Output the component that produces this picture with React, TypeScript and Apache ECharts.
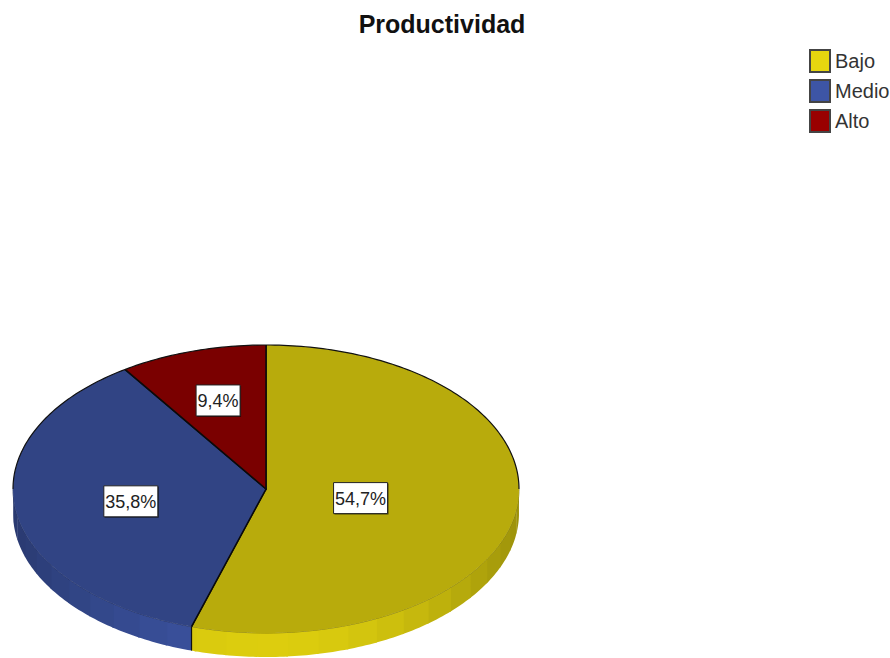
import React, { useEffect, useRef } from "react";
import * as echarts from "echarts";

// Productividad: share of each level, in percent
const categories = ["Bajo", "Medio", "Alto"];
const shares = [54.7, 35.8, 9.4];
const shareLabels = ["54,7%", "35,8%", "9,4%"];
const colors = ["#E6D60F", "#3D55A5", "#990000"];

// Projection of the tilted disc
const CX = 266;
const CY = 489;
const RX = 253;
const RY = 144;
const DEPTH = 24;
const FACET = 7; // degrees per facet of the rim
const LABEL_RADIUS = [0.378, 0.54, 0.65];
const FONT = '"Liberation Sans", Arial, sans-serif';

const total = shares.reduce((a, b) => a + b, 0);

// Angles are in degrees, clockwise from twelve o'clock
const rimPoint = (deg: number, r = 1, drop = 0): number[] => {
  const t = (deg * Math.PI) / 180;
  return [CX + RX * r * Math.sin(t), CY - RY * r * Math.cos(t) + drop];
};

const shade = (hex: string, f: number): string => {
  const n = parseInt(hex.slice(1), 16);
  const c = [(n >> 16) & 255, (n >> 8) & 255, n & 255].map((v) =>
    Math.min(255, Math.round(v * f))
  );
  return `rgb(${c[0]},${c[1]},${c[2]})`;
};

const arcPoints = (from: number, to: number, drop = 0): number[][] => {
  const pts: number[][] = [];
  const steps = Math.max(1, Math.ceil(Math.abs(to - from)));
  for (let i = 0; i <= steps; i++) {
    pts.push(rimPoint(from + ((to - from) * i) / steps, 1, drop));
  }
  return pts;
};

// One series per level, so each gets its own legend entry
const renderSlice = (params: any, api: any) => {
  const i = params.seriesIndex;
  const before = shares.slice(0, i).reduce((a, b) => a + b, 0);
  const start = (before / total) * 360;
  const end = start + (api.value(0) / total) * 360;
  const base = colors[i];
  const children: any[] = [];

  // Rim facets on the visible front half, brightest facing the viewer
  const wallFrom = Math.max(start, 90);
  const wallTo = Math.min(end, 270);
  if (wallTo > wallFrom) {
    let a = wallFrom;
    while (a < wallTo) {
      const next = Math.min(wallTo, (Math.floor(a / FACET) + 1) * FACET);
      const c = Math.cos(((a + next) / 2 - 180) * (Math.PI / 180));
      const fill = shade(base, 0.68 + 0.28 * c * c);
      const overlap = Math.min(wallTo, next + 0.4);
      children.push({
        type: "polygon",
        shape: { points: [...arcPoints(a, overlap), ...arcPoints(overlap, a, DEPTH)] },
        style: { fill },
      });
      a = next;
    }
    children.push({
      type: "polyline",
      shape: { points: arcPoints(wallFrom, wallTo) },
      style: { fill: "none", stroke: shade(base, 0.55), lineWidth: 0.8 },
    });
  }

  // Top face
  children.push({
    type: "polygon",
    shape: { points: [[CX, CY], ...arcPoints(start, end)] },
    style: { fill: shade(base, 0.8) },
  });

  // Radial edges and the far rim in black
  children.push({
    type: "polyline",
    shape: { points: [rimPoint(start), [CX, CY], rimPoint(end)] },
    style: { fill: "none", stroke: "#0a0a0a", lineWidth: 1.5 },
  });
  if (end > 270) {
    children.push({
      type: "polyline",
      shape: { points: arcPoints(Math.max(start, 270), end) },
      style: { fill: "none", stroke: "#111", lineWidth: 1.2 },
    });
  }
  if (start < 90) {
    children.push({
      type: "polyline",
      shape: { points: arcPoints(start, Math.min(90, end)) },
      style: { fill: "none", stroke: "#111", lineWidth: 1.2 },
    });
  }
  // Vertical edge where two slices meet on the rim
  if (start > 90 && start < 270) {
    const [ex, ey] = rimPoint(start);
    children.push({
      type: "line",
      shape: { x1: ex, y1: ey, x2: ex, y2: ey + DEPTH },
      style: { stroke: "#111", lineWidth: 1.2 },
    });
  }

  // Value box
  const [lx, labelY] = rimPoint((start + end) / 2, LABEL_RADIUS[i]);
  const ly = labelY + 1;
  const w = i === 2 ? 44 : 54;
  const h = 31;
  children.push({
    type: "rect",
    shape: { x: lx - w / 2 + 1, y: ly - h / 2 + 1, width: w, height: h },
    style: { fill: "rgba(0,0,0,0.55)" },
  });
  children.push({
    type: "rect",
    shape: { x: lx - w / 2, y: ly - h / 2, width: w, height: h },
    style: { fill: "#fff", stroke: "#222", lineWidth: 1 },
  });
  children.push({
    type: "text",
    style: {
      x: lx,
      y: ly + 1,
      text: shareLabels[i],
      align: "center",
      verticalAlign: "middle",
      fill: "#222",
      font: `18px ${FONT}`,
    },
  });

  return { type: "group", children };
};

export default function App() {
  const ref = useRef<HTMLDivElement>(null);

  useEffect(() => {
    const chart = echarts.init(ref.current!, null, { renderer: "svg" });
    chart.setOption({
      animation: false,
      backgroundColor: "#fff",
      title: {
        text: "Productividad",
        left: 437,
        top: 6,
        textAlign: "center",
        textStyle: { fontFamily: FONT, fontSize: 25, fontWeight: "bold", color: "#111" },
      },
      legend: {
        orient: "vertical",
        left: 809,
        top: 49,
        padding: 0,
        itemWidth: 20,
        itemHeight: 22,
        itemGap: 6,
        selectedMode: false,
        textStyle: { fontFamily: FONT, fontSize: 20, color: "#333" },
        data: categories.map((name, i) => ({
          name,
          icon: "rect",
          itemStyle: { color: colors[i], borderColor: "#444", borderWidth: 2 },
        })),
      },
      series: categories.map((name, i) => ({
        type: "custom",
        name,
        coordinateSystem: "none",
        silent: true,
        renderItem: renderSlice,
        itemStyle: { color: colors[i] },
        data: [[shares[i]]],
      })),
    });
    return () => chart.dispose();
  }, []);

  return (
    <div
      ref={ref}
      style={{ position: "absolute", left: 0, top: 0, width: 890, height: 658 }}
    />
  );
}
